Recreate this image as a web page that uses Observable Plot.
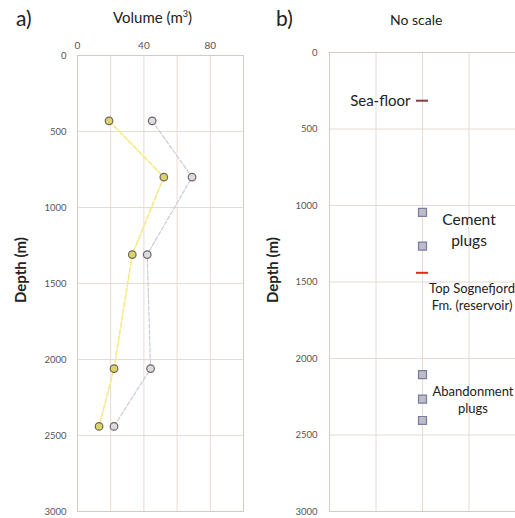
<!DOCTYPE html>
<html>
<head>
<meta charset="utf-8">
<script src="https://cdn.jsdelivr.net/npm/d3@7"></script>
<script src="https://cdn.jsdelivr.net/npm/@observablehq/plot@0.6"></script>
<style>
  body { margin: 0; background: #fff; font-family: Lato, "Open Sans", sans-serif; }
  #wrap { position: relative; width: 515px; height: 518px; overflow: hidden; }
  .lbl { position: absolute; white-space: nowrap; color: #222; }
  .plot { position: absolute; top: 0; }
</style>
</head>
<body>
<div id="wrap">
  <div class="lbl" style="left:16px;top:5px;font-size:21px;">a)</div>
  <div class="lbl" style="left:113px;top:8px;font-size:15px;">Volume (m<sup style="font-size:9px">3</sup>)</div>
  <div class="lbl" style="left:20px;top:270px;font-size:15px;font-weight:700;transform:translate(-50%,-50%) rotate(-90deg);">Depth (m)</div>
  <div class="lbl" style="left:276px;top:5px;font-size:21px;">b)</div>
  <div class="lbl" style="left:390px;top:11px;font-size:14px;">No scale</div>
  <div class="lbl" style="left:272px;top:270px;font-size:15px;font-weight:700;transform:translate(-50%,-50%) rotate(-90deg);">Depth (m)</div>
</div>
<script>
// ---- Panel a data ----
const depthsA = [430, 800, 1310, 2060, 2440];
const volYellow = [19, 52, 33, 22, 13];
const volGray = [45, 69, 42, 44, 22];
const volTicks = [0, 40, 80];
const depthTicks = [0, 500, 1000, 1500, 2000, 2500, 3000];

// ---- Panel b data ----
const seaFloorDepth = [315];
const reservoirTopDepth = [1440];
const cementPlugDepths = [1045, 1265];
const abandonPlugDepths = [2105, 2265, 2405];
const wellX = 2;
const annotations = [
  {text: "Sea-floor", x: 2, depth: 315},
  {text: "Cement\nplugs", x: 3, depth: 1150},
  {text: "Top Sognefjord\nFm. (reservoir)", x: 3, depth: 1590},
  {text: "Abandonment\nplugs", x: 3, depth: 2265}
];

const gridColor = "#e6dad4";
const frameColor = "#d6cac4";
const fmt = d3.format("d");

const rowsY = depthsA.map((d, i) => ({depth: d, vol: volYellow[i]}));
const rowsG = depthsA.map((d, i) => ({depth: d, vol: volGray[i]}));

const plotA = Plot.plot({
  width: 257, height: 518,
  marginTop: 55, marginBottom: 7, marginLeft: 77, marginRight: 14,
  style: {fontFamily: "Lato, sans-serif", fontSize: "10px", color: "#555", background: "transparent"},
  x: {domain: [0, 100], axis: null},
  y: {domain: [0, 3000], reverse: true, axis: null},
  marks: [
    Plot.gridX(d3.range(0, 101, 20), {stroke: gridColor, strokeOpacity: 1}),
    Plot.gridY(depthTicks, {stroke: gridColor, strokeOpacity: 1}),
    Plot.frame({stroke: frameColor}),
    Plot.axisX(volTicks, {anchor: "top", label: null, tickSize: 0, tickPadding: 7, fill: "#555", fontSize: 10}),
    Plot.axisY(depthTicks, {anchor: "left", label: null, tickFormat: fmt, tickSize: 0, tickPadding: 11, fill: "#555", fontSize: 9.5}),
    Plot.line(rowsG, {x: "vol", y: "depth", stroke: "#c9ccd8", strokeWidth: 1.2, strokeDasharray: "4,2"}),
    Plot.line(rowsY, {x: "vol", y: "depth", stroke: "#f5ea86", strokeWidth: 1.6, strokeDasharray: "5,2"}),
    Plot.dot(rowsG, {x: "vol", y: "depth", r: 3.8, fill: "#dedae4", stroke: "#6e6660", strokeWidth: 1.2}),
    Plot.dot(rowsY, {x: "vol", y: "depth", r: 3.8, fill: "#dcd46a", stroke: "#6e6660", strokeWidth: 1.2})
  ]
});
plotA.classList.add("plot");
plotA.style.left = "0px";
document.getElementById("wrap").appendChild(plotA);

const plugs = [...cementPlugDepths, ...abandonPlugDepths].map(d => ({x: wellX, depth: d}));
const plotB = Plot.plot({
  width: 258, height: 518,
  marginTop: 52, marginBottom: 7, marginLeft: 72, marginRight: 0,
  style: {fontFamily: "Lato, sans-serif", fontSize: "10px", color: "#555", background: "transparent"},
  x: {domain: [0, 4], axis: null},
  y: {domain: [0, 3000], reverse: true, axis: null},
  marks: [
    Plot.gridX([1, 2, 3], {stroke: gridColor, strokeOpacity: 1}),
    Plot.gridY(depthTicks, {stroke: gridColor, strokeOpacity: 1}),
    Plot.frame({stroke: frameColor}),
    Plot.axisY(depthTicks, {anchor: "left", label: null, tickFormat: fmt, tickSize: 0, tickPadding: 12, fill: "#555", fontSize: 9.5}),
    Plot.ruleY(seaFloorDepth, {y: d => d, x1: wellX - 0.13, x2: wellX + 0.13, stroke: "#8a3a3a", strokeWidth: 2}),
    Plot.ruleY(reservoirTopDepth, {y: d => d, x1: wellX - 0.13, x2: wellX + 0.13, stroke: "#e8261c", strokeWidth: 2}),
    Plot.dot(plugs, {x: "x", y: "depth", symbol: "square", r: 4.5, fill: "#bdbdc6", stroke: "#7a7aa6", strokeWidth: 1.2}),
    Plot.text(annotations.slice(0, 1), {x: "x", y: "depth", text: "text", textAnchor: "end", dx: -12, fontSize: 15, fill: "#222"}),
    Plot.text(annotations.slice(1, 2), {x: "x", y: "depth", text: "text", dx: 0, fontSize: 15.5, lineHeight: 1.4, fill: "#222"}),
    Plot.text(annotations.slice(2, 3), {x: "x", y: "depth", text: "text", dx: 3, fontSize: 13, lineHeight: 1.35, fill: "#222"}),
    Plot.text(annotations.slice(3, 4), {x: "x", y: "depth", text: "text", dx: 4, fontSize: 13, lineHeight: 1.35, fill: "#222"})
  ]
});
plotB.classList.add("plot");
plotB.style.left = "257px";
document.getElementById("wrap").appendChild(plotB);
</script>
</body>
</html>
